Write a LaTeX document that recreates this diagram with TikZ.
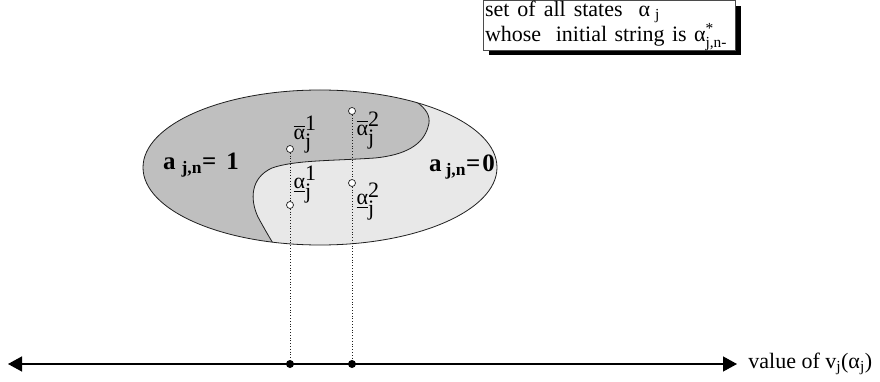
\documentclass[tikz,border=0pt]{standalone}
\usepackage{amsmath}
\usepackage{fontspec}
\setmainfont{Liberation Serif}
\usetikzlibrary{arrows.meta,calc,positioning,shadows}
\definecolor{RegionDark}{gray}{0.75}
\definecolor{RegionLight}{gray}{0.91}
\definecolor{Ink}{gray}{0.12}
\tikzset{
  every picture/.style={line width=0.8pt},
  notebox/.style={
    draw=Ink!80,
    line width=0.8pt,
    fill=white,
    align=left,
    font=\fontsize{22}{21}\selectfont,
    text width=248pt,
    minimum height=46pt,
    inner xsep=2pt,
    inner ysep=0pt,
    drop shadow={shadow xshift=6pt, shadow yshift=-5pt, fill=black, opacity=1}
  },
  statept/.style={circle, draw=Ink, fill=white, minimum size=7pt, inner sep=0pt, line width=0.7pt},
  valpt/.style={circle, fill=black, minimum size=8pt, inner sep=0pt},
  statelabel/.style={font=\fontsize{22}{24}\selectfont, inner sep=0.5pt},
  regionlabel/.style={font=\fontsize{25}{28}\selectfont\bfseries, inner sep=0pt},
  drop/.style={dotted, draw=Ink, line width=0.8pt},
  valaxis/.style={draw=black, line width=1.3pt,
    {Triangle[length=14pt,width=15pt]}-{Triangle[length=14pt,width=15pt]}},
  axislabel/.style={font=\fontsize{22}{24}\selectfont, inner sep=2pt}
}
% boundary between the two regions
\newcommand{\splitcurve}{(380,84) .. controls (416,98) and (434,110) .. (428,127)
  .. controls (423,145) and (405,155) .. (375,158)
  .. controls (330,161) and (295,160) .. (272,168)
  .. controls (250,178) and (250,200) .. (258,217)
  .. controls (265,230) and (272,242) .. (281,256)}
\newcommand{\hialpha}[1]{\ensuremath{\overline{\mbox{α}}^{\mbox{#1}}_{\mbox{j}}}}
\newcommand{\loalpha}[1]{\ensuremath{\underline{\mbox{α}}^{\mbox{#1}}_{\mbox{j}}}}
\newcommand{\ajn}[3]{a\hspace{#1}\textsubscript{j,n}=\hspace{#2}#3}

\begin{document}
\begin{tikzpicture}[x=1pt,y=-1pt]
  \useasboundingbox (0,0) rectangle (880,382);

  % the set, split in two regions
  \begin{scope}
    \clip (320,167.5) ellipse [x radius=177pt, y radius=77.5pt];
    \fill[RegionLight] (100,80) rectangle (560,260);
    \fill[RegionDark] \splitcurve -- (100,260) -- (100,80) -- cycle;
    \draw[Ink] \splitcurve;
  \end{scope}
  \draw[Ink] (320,167.5) ellipse [x radius=177pt, y radius=77.5pt];

  \node[regionlabel] (regone) at (201,165) {\ajn{6pt}{10pt}{1}};
  \node[regionlabel] (regzero) at (462,167) {\ajn{4pt}{2pt}{0}};

  % states
  \node[statept] (hi1) at (290,149) {};
  \node[statept] (lo1) at (290,205) {};
  \node[statept] (hi2) at (352,111) {};
  \node[statept] (lo2) at (352,183) {};

  % value axis
  \coordinate (axl) at (8,364);
  \coordinate (axr) at (737,364);
  \draw[valaxis] (axl) -- (axr);
  \node[valpt] (val1) at (290,364) {};
  \node[valpt] (val2) at (352,364) {};
  \node[axislabel, right=9pt of axr] (vallabel) {value of v\textsubscript{j}(α\textsubscript{j})};

  \draw[drop] (hi1) -- (lo1);
  \draw[drop] (lo1) -- (val1);
  \draw[drop] (hi2) -- (lo2);
  \draw[drop] (lo2) -- (val2);

  \node[statelabel, above right=-8pt and 0pt of hi1] (hi1lab) {\hialpha{1}};
  \node[statelabel, above right=-2pt and 0pt of lo1] (lo1lab) {\loalpha{1}};
  \node[statelabel, below right=-3pt and 1pt of hi2] (hi2lab) {\hialpha{2}};
  \node[statelabel, below right=-4pt and 1pt of lo2] (lo2lab) {\loalpha{2}};

  % note box
  \node[notebox] (setbox) at (609,25.5)
    {set\hspace{8pt}of\hspace{8pt}all\hspace{8pt}states\hspace{16pt}α\hspace{5pt}\textsubscript{j}\\
     whose\ \ initial string is α$^{\text{*}}_{\text{j,n-}}$};
\end{tikzpicture}
\end{document}
